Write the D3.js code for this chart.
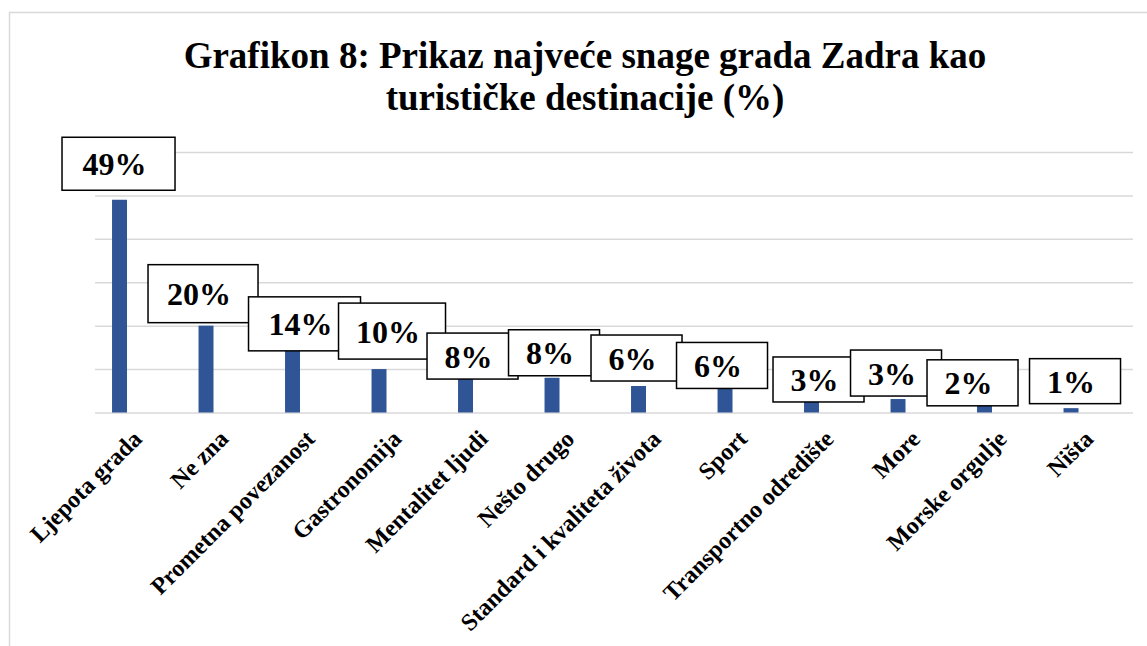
<!DOCTYPE html>
<html>
<head>
<meta charset="utf-8">
<script src="https://cdn.jsdelivr.net/npm/d3@7"></script>
<style>
  body { margin: 0; background: #fff; }
  text { font-family: "Liberation Serif", "Times New Roman", serif; font-weight: bold; }
</style>
</head>
<body>
<div id="canvas"></div>
<script>
const categories = [
  "Ljepota grada", "Ne zna", "Prometna povezanost", "Gastronomija",
  "Mentalitet ljudi", "Nešto drugo", "Standard i kvaliteta života", "Sport",
  "Transportno odredište", "More", "Morske orgulje", "Ništa"
];
const values = [49, 20, 14.2, 10, 7.7, 8, 6.1, 6, 3, 3.1, 2, 1];
const yTicks = [0, 10, 20, 30, 40, 50, 60];
const titleLines = ["Grafikon 8: Prikaz najveće snage grada Zadra kao", "turističke destinacije (%)"];

// hand-placed label boxes (dx, dy from bar top centre, width, height)
const labelBoxes = [
  [-1, -36, 113, 53], [-3, -32, 110, 58], [12, -27, 112, 54], [13, -38, 107, 56],
  [7, -23, 91, 46], [2, -25, 91, 46], [-2, -28, 91, 46], [-3, -21, 91, 46],
  [7, -20, 91, 45], [-2, -26, 91, 46], [-12, -21, 91, 46], [4, -27, 91, 45]
];

const width = 1147;
const height = 646;

const svg = d3.select("#canvas").append("svg")
  .attr("width", width)
  .attr("height", height);

// chart frame
svg.append("rect")
  .attr("x", 9.5).attr("y", 12.5)
  .attr("width", 1160).attr("height", 660)
  .attr("fill", "#fff")
  .attr("stroke", "#d9d9d9")
  .attr("stroke-width", 1.5);

svg.append("g").selectAll("text")
  .data(titleLines)
  .enter().append("text")
  .attr("x", 585)
  .attr("y", (d, i) => 67.5 + i * 42)
  .attr("text-anchor", "middle")
  .style("font-size", "37px")
  .text(d => d);

const x = d3.scaleBand().domain(categories).range([95, 1133]).padding(0);
const y = d3.scaleLinear().domain([0, 60]).range([412.5, 152]);

// gridlines
const grid = svg.append("g")
  .attr("transform", "translate(95,0)")
  .call(d3.axisLeft(y).tickValues(yTicks).tickSize(-1038).tickFormat(""));
grid.select(".domain").remove();
grid.selectAll(".tick line").attr("stroke", "#d9d9d9").attr("stroke-width", 1.5);

const bw = x.bandwidth();
const barX = d => x(d.c) + bw * 0.197;
const barW = bw * 0.173;

const rows = categories.map((c, i) => ({ c: c, v: values[i], box: labelBoxes[i] }));

svg.append("g").selectAll("rect")
  .data(rows)
  .enter().append("rect")
  .attr("x", barX)
  .attr("y", d => y(d.v))
  .attr("width", barW)
  .attr("height", d => y(0) - y(d.v))
  .attr("fill", "#2f5597");

// x labels
const xa = svg.append("g")
  .attr("transform", `translate(0, ${y(0)})`)
  .call(d3.axisBottom(x).tickSize(0).tickPadding(0));
xa.select(".domain").remove();
xa.selectAll(".tick text")
  .style("font-size", "24px")
  .attr("fill", "#000")
  .attr("text-anchor", "end")
  .attr("dy", null)
  .attr("y", 0)
  .attr("transform", "translate(1,24) rotate(-45)")
  .attr("dominant-baseline", "middle");

// data labels
const lab = svg.append("g").selectAll("g")
  .data(rows)
  .enter().append("g")
  .attr("transform", d => `translate(${barX(d) + barW / 2 + d.box[0]}, ${y(d.v) + d.box[1]})`);

lab.append("rect")
  .attr("x", d => -d.box[2] / 2)
  .attr("y", d => -d.box[3] / 2)
  .attr("width", d => d.box[2])
  .attr("height", d => d.box[3])
  .attr("fill", "#fff")
  .attr("stroke", "#000")
  .attr("stroke-width", 1.5);

lab.append("text")
  .attr("x", -4)
  .attr("y", 11.5)
  .attr("text-anchor", "middle")
  .style("font-size", "32px")
  .text(d => Math.round(d.v) + "%");
</script>
</body>
</html>
